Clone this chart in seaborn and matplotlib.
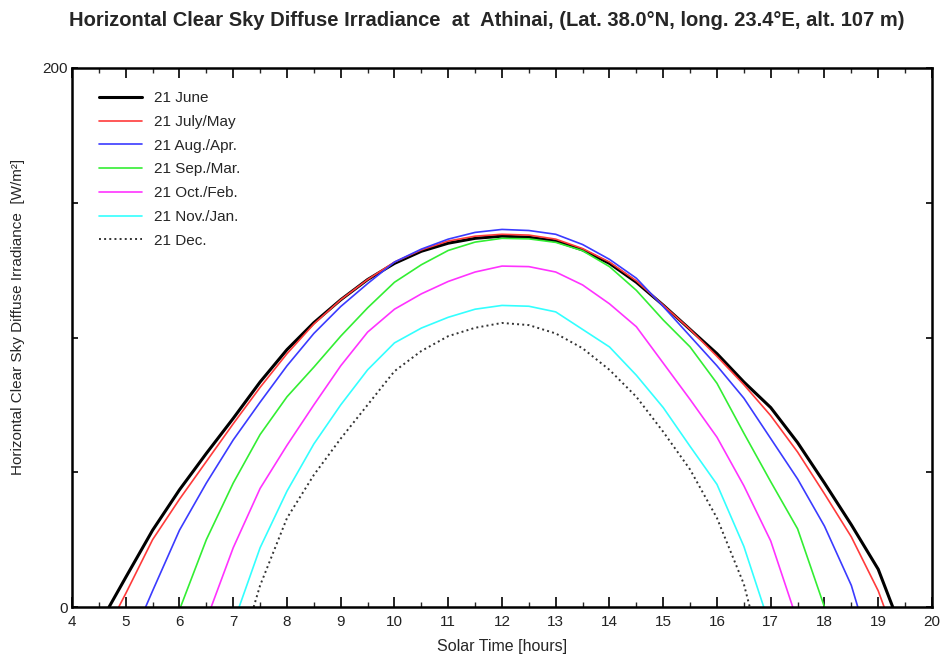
import matplotlib
matplotlib.use("Agg")
import matplotlib.pyplot as plt
from matplotlib.ticker import MultipleLocator, FixedLocator
import seaborn as sns
import pandas as pd

# Solar time (hours) and horizontal clear-sky diffuse irradiance (W/m2)
june_t = [4.69, 5.0, 5.5, 6.0, 6.5, 7.0, 7.5, 8.0, 8.5, 9.0, 9.5, 10.0, 10.5, 11.0, 11.5, 12.0,
          12.5, 13.0, 13.5, 14.0, 14.5, 15.0, 15.5, 16.0, 16.5, 17.0, 17.5, 18.0, 18.5, 19.0, 19.27]
june_v = [0, 11, 28.5, 43.5, 57, 70, 83.5, 95.5, 105.5, 114, 121.5, 127.5, 132, 135, 136.8, 137.6,
          137.2, 135.8, 132.5, 127.5, 120.5, 112, 103, 94, 83.5, 74, 61, 46, 30.5, 14, 0]

jul_t = [4.87, 5.0, 5.5, 6.0, 6.5, 7.0, 7.5, 8.0, 8.5, 9.0, 9.5, 10.0, 10.5, 11.0, 11.5, 12.0,
         12.5, 13.0, 13.5, 14.0, 14.5, 15.0, 15.5, 16.0, 16.5, 17.0, 17.5, 18.0, 18.5, 19.0, 19.11]
jul_v = [0, 5, 25, 40, 54, 68, 81.5, 94, 105, 114, 121.5, 128, 132.5, 135.8, 137.6, 138.3,
         138, 136.5, 133, 128, 121, 112, 103, 93, 82.5, 71, 57.5, 42, 26, 6, 0]

aug_t = [5.37, 5.5, 6.0, 6.5, 7.0, 7.5, 8.0, 8.5, 9.0, 9.5, 10.0, 10.5, 11.0, 11.5, 12.0,
         12.5, 13.0, 13.5, 14.0, 14.5, 15.0, 15.5, 16.0, 16.5, 17.0, 17.5, 18.0, 18.5, 18.62]
aug_v = [0, 6, 28.5, 46, 62, 76, 89.5, 101.5, 111.5, 120, 128, 132.8, 136.5, 139, 140.1,
         139.7, 138.3, 134.5, 129, 122, 111.5, 100.5, 89.5, 77.5, 62.5, 47.5, 30, 8, 0]

sep_t = [6.02, 6.5, 7.0, 7.5, 8.0, 8.5, 9.0, 9.5, 10.0, 10.5, 11.0, 11.5, 12.0,
         12.5, 13.0, 13.5, 14.0, 14.5, 15.0, 15.5, 16.0, 16.5, 17.0, 17.5, 18.0]
sep_v = [0, 25, 46, 64, 78, 89, 100.5, 111, 120.5, 127, 132.3, 135.4, 136.8,
         136.6, 135.3, 132.2, 126.3, 117.5, 106.5, 96.5, 83, 64.5, 46.5, 29, 0]

oct_t = [6.59, 7.0, 7.5, 8.0, 8.5, 9.0, 9.5, 10.0, 10.5, 11.0, 11.5, 12.0,
         12.5, 13.0, 13.5, 14.0, 14.5, 15.0, 15.5, 16.0, 16.5, 17.0, 17.41]
oct_v = [0, 22, 44, 60, 75, 89.5, 102, 110.5, 116.2, 120.8, 124.3, 126.5,
         126.3, 124.3, 119.5, 112.5, 104, 90.5, 77, 63, 45, 24.5, 0]

nov_t = [7.11, 7.5, 8.0, 8.5, 9.0, 9.5, 10.0, 10.5, 11.0, 11.5, 12.0,
         12.5, 13.0, 13.5, 14.0, 14.5, 15.0, 15.5, 16.0, 16.5, 16.87]
nov_v = [0, 22, 43, 60.5, 75, 88, 98, 103.5, 107.5, 110.5, 111.9,
         111.6, 109.5, 103, 96.5, 86, 74, 59.6, 45.5, 22.5, 0]

dec_t = [7.38, 7.5, 8.0, 8.5, 9.0, 9.5, 10.0, 10.5, 11.0, 11.5, 12.0,
         12.5, 13.0, 13.5, 14.0, 14.5, 15.0, 15.5, 16.0, 16.5, 16.61]
dec_v = [0, 8, 33, 49, 62.5, 75, 87.5, 95, 100.5, 103.6, 105.4,
         104.6, 101.5, 96, 88, 78, 65, 51, 33, 8.5, 0]

labels = ["21 June", "21 July/May", "21 Aug./Apr.", "21 Sep./Mar.",
          "21 Oct./Feb.", "21 Nov./Jan.", "21 Dec."]
series = [(june_t, june_v), (jul_t, jul_v), (aug_t, aug_v), (sep_t, sep_v),
          (oct_t, oct_v), (nov_t, nov_v), (dec_t, dec_v)]
colors = ["#000000", "#ff3b3b", "#3b3bff", "#33ee33", "#ff33ff", "#33ffff", "#333333"]
widths = [2.2, 1.2, 1.2, 1.2, 1.2, 1.2, 1.4]
styles = ["-", "-", "-", "-", "-", "-", ":"]

sns.set_theme(style="white")
plt.rcParams["font.family"] = ["Liberation Sans", "DejaVu Sans"]

fig = plt.figure(figsize=(9.41, 6.57), dpi=100)
ax = fig.add_axes([0.0765, 0.0761, 0.9139, 0.8204])

for (t, v), lab, c, lw, ls in zip(series, labels, colors, widths, styles):
    df = pd.DataFrame({"t": t, "v": v})
    sns.lineplot(data=df, x="t", y="v", ax=ax, color=c, linewidth=lw,
                 linestyle=ls, label=lab, sort=False, estimator=None)

ax.set_xlim(4, 20)
ax.set_ylim(0, 200)
ax.xaxis.set_major_locator(MultipleLocator(1))
ax.xaxis.set_minor_locator(MultipleLocator(0.5))
ax.yaxis.set_major_locator(FixedLocator([0, 50, 100, 150, 200]))
ax.set_yticklabels(["0", "", "", "", "200"])

ax.tick_params(axis="x", which="major", direction="in", length=7, width=1.2,
               top=True, bottom=True, labelsize=11, colors="black", pad=6)
ax.tick_params(axis="x", which="minor", direction="in", length=3.5, width=1.0,
               top=True, bottom=True)
ax.tick_params(axis="y", which="major", direction="in", length=4, width=1.2,
               left=True, right=True, labelsize=11, colors="black", pad=3)
for lab in ax.get_xticklabels() + ax.get_yticklabels():
    lab.set_color("#222222")

for s in ax.spines.values():
    s.set_linewidth(1.8)
    s.set_color("black")

ax.set_xlabel("Solar Time [hours]", fontsize=11.5, labelpad=7)
ax.set_ylabel("")
fig.text(0.019, 0.517, "Horizontal Clear Sky Diffuse Irradiance  [W/m\u00b2]",
         rotation=90, ha="center", va="center", fontsize=11)

fig.text(0.517, 0.969, "Horizontal Clear Sky Diffuse Irradiance  at  Athinai, "
         "(Lat. 38.0\u00b0N, long. 23.4\u00b0E, alt. 107 m)",
         ha="center", va="center", fontsize=14.5, fontweight="bold")

leg = ax.legend(loc="upper left", bbox_to_anchor=(0.008, 0.994), frameon=False,
                fontsize=11, handlelength=2.8, handletextpad=0.85,
                labelspacing=0.64, borderaxespad=0.9)

fig.savefig("out.png", dpi=100)
